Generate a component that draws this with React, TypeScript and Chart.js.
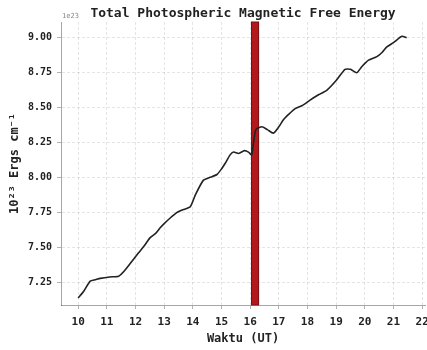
import React, { useEffect, useRef } from "react";
import { Chart, registerables } from "chart.js";

Chart.register(...registerables);

const times = [10.0, 10.2, 10.42, 10.6, 10.77, 11.1, 11.41, 11.6, 11.87, 12.1, 12.3, 12.51, 12.7, 12.86, 13.0, 13.21, 13.45, 13.67, 13.91, 14.1, 14.37, 14.6, 14.84, 15.0, 15.13, 15.3, 15.42, 15.6, 15.8, 15.94, 16.05, 16.12, 16.2, 16.41, 16.6, 16.81, 17.0, 17.16, 17.35, 17.57, 17.8, 18.09, 18.4, 18.67, 19.0, 19.31, 19.5, 19.72, 19.9, 20.13, 20.42, 20.6, 20.77, 21.0, 21.29, 21.46];
const energy = [7.14, 7.19, 7.26, 7.27, 7.28, 7.29, 7.295, 7.33, 7.40, 7.46, 7.51, 7.57, 7.60, 7.64, 7.67, 7.71, 7.75, 7.77, 7.79, 7.88, 7.98, 8.00, 8.02, 8.06, 8.10, 8.16, 8.18, 8.17, 8.19, 8.18, 8.16, 8.25, 8.34, 8.36, 8.34, 8.315, 8.36, 8.41, 8.45, 8.49, 8.51, 8.55, 8.59, 8.62, 8.69, 8.77, 8.77, 8.745, 8.79, 8.835, 8.86, 8.89, 8.93, 8.96, 9.005, 8.995];
const xTicks = [10, 11, 12, 13, 14, 15, 16, 17, 18, 19, 20, 21, 22];
const yTicks = [7.25, 7.5, 7.75, 8.0, 8.25, 8.5, 8.75, 9.0];
const flareBand = [16.03, 16.31];
const titleText = "Total Photospheric Magnetic Free Energy";

const MONO = "'DejaVu Sans Mono', monospace";

const overlay = {
  id: "overlay",
  beforeDatasetsDraw(chart: any) {
    const { ctx, chartArea, scales } = chart;
    const x0 = scales.x.getPixelForValue(flareBand[0]);
    const x1 = scales.x.getPixelForValue(flareBand[1]);
    ctx.save();
    ctx.fillStyle = "#b3191c";
    ctx.fillRect(x0, chartArea.top, x1 - x0, chartArea.bottom - chartArea.top);
    ctx.strokeStyle = "#7d1012";
    ctx.lineWidth = 1;
    ctx.strokeRect(x0 + 0.5, chartArea.top, x1 - x0 - 1, chartArea.bottom - chartArea.top);
    ctx.restore();
  },
  afterDraw(chart: any) {
    const { ctx, chartArea } = chart;
    ctx.save();
    ctx.fillStyle = "#888";
    ctx.font = "7px " + MONO;
    ctx.textAlign = "left";
    ctx.textBaseline = "bottom";
    ctx.fillText("1e23", chartArea.left + 1, chartArea.top - 2);
    ctx.fillStyle = "#222";
    ctx.font = "bold 13px " + MONO;
    ctx.textAlign = "center";
    ctx.textBaseline = "middle";
    ctx.fillText(titleText, (chartArea.left + chartArea.right) / 2, 14);
    ctx.restore();
  },
};

export default function App() {
  const ref = useRef<HTMLCanvasElement>(null);
  useEffect(() => {
    const chart = new Chart(ref.current!, {
      type: "line",
      data: {
        datasets: [
          {
            data: times.map((t, i) => ({ x: t, y: energy[i] })),
            borderColor: "#222",
            borderWidth: 1.6,
            pointRadius: 0,
            tension: 0.2,
            fill: false,
          },
        ],
      },
      options: {
        animation: false,
        responsive: false,
        maintainAspectRatio: false,
        layout: { padding: { left: 0, right: 2, top: 22, bottom: 0 } },
        plugins: {
          legend: { display: false },
          tooltip: { enabled: false },
          title: { display: false },
        },
        scales: {
          x: {
            type: "linear",
            min: 9.4,
            max: 22.1,
            afterBuildTicks: (s: any) => {
              s.ticks = xTicks.map((v) => ({ value: v }));
            },
            afterFit: (s: any) => {
              s.height = 45;
              s.paddingLeft = 0;
              s.paddingRight = 0;
            },
            ticks: {
              color: "#222",
              font: { family: MONO, size: 11, weight: "bold" },
              padding: 7,
              maxRotation: 0,
              autoSkip: false,
              callback: (v: any) => String(v),
            },
            grid: {
              color: "rgba(0,0,0,0.10)",
              tickLength: 4,
              tickColor: "rgba(0,0,0,0.3)",
            },
            border: { color: "rgba(0,0,0,0.35)", dash: [3, 2] },
            title: {
              display: true,
              text: "Waktu (UT)",
              color: "#222",
              font: { family: MONO, size: 12, weight: "bold" },
              padding: { top: 0, bottom: 4 },
            },
          },
          y: {
            type: "linear",
            min: 7.09,
            max: 9.107,
            afterBuildTicks: (s: any) => {
              s.ticks = yTicks.map((v) => ({ value: v }));
            },
            afterFit: (s: any) => {
              s.width = 61;
              s.paddingTop = 0;
              s.paddingBottom = 0;
            },
            ticks: {
              color: "#222",
              font: { family: MONO, size: 10, weight: "bold" },
              padding: 5,
              autoSkip: false,
              callback: (v: any) => Number(v).toFixed(2),
            },
            grid: {
              color: "rgba(0,0,0,0.10)",
              tickLength: 4,
              tickColor: "rgba(0,0,0,0.3)",
            },
            border: { color: "rgba(0,0,0,0.35)", dash: [3, 2] },
            title: {
              display: true,
              text: "10²³ Ergs cm⁻¹",
              color: "#222",
              font: { family: MONO, size: 12, weight: "bold" },
              padding: { top: 8, bottom: 0 },
            },
          },
        },
      },
      plugins: [overlay],
    });
    return () => chart.destroy();
  }, []);
  return (
    <div style={{ position: "fixed", left: 0, top: 0, width: 427, height: 350, background: "#fff" }}>
      <canvas ref={ref} width={427} height={350} />
    </div>
  );
}
